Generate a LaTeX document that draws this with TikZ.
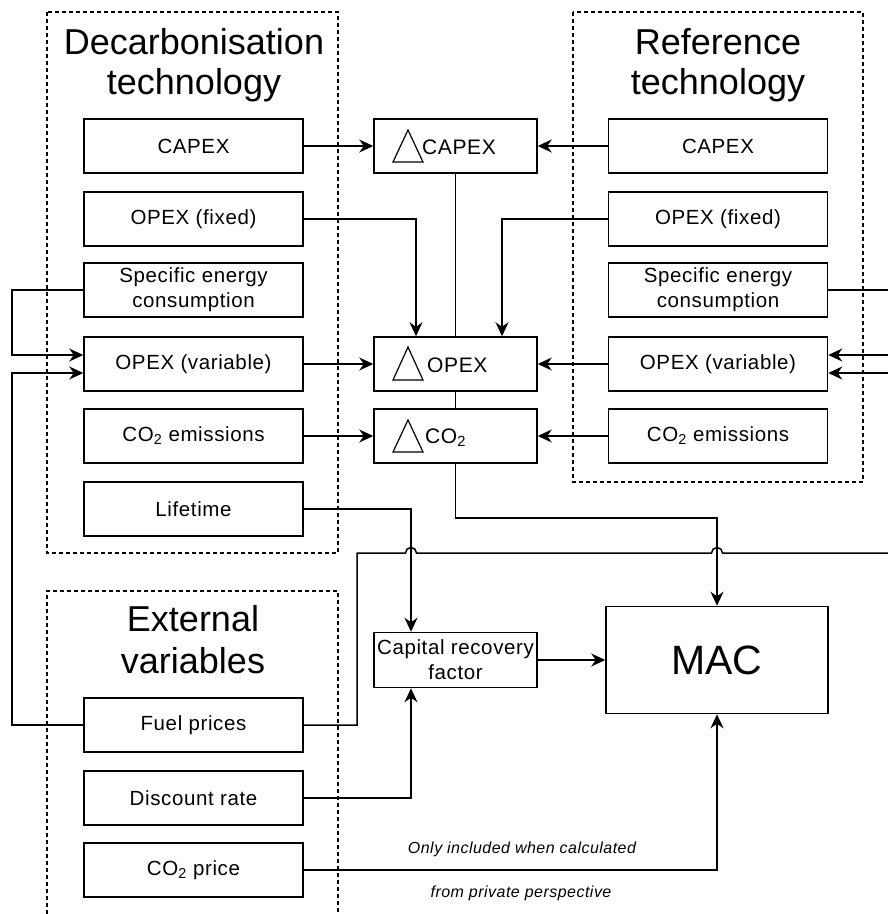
\documentclass[tikz,border=0pt]{standalone}
\usepackage{fontspec}
\setmainfont{Liberation Sans}
\newfontfamily\spacedfont[LetterSpace=3]{Liberation Sans}
\usetikzlibrary{arrows.meta}

\begin{document}
\begin{tikzpicture}[x=1pt,y=-1pt,
  box/.style={draw, line width=1.5pt, minimum width=219pt, minimum height=54pt,
    inner sep=0pt, align=center, font=\spacedfont\fontsize{20.5}{25}\selectfont},
  dbox/.style={draw, line width=1.5pt, minimum width=163pt, minimum height=54pt, inner sep=0pt},
  dlabel/.style={anchor=base west, inner sep=0pt, font=\spacedfont\fontsize{21}{25}\selectfont},
  dtri/.style={line width=1.2pt, line join=miter},
  group/.style={draw, line width=1.3pt, dash pattern=on 4pt off 3pt},
  heading/.style={anchor=base, inner sep=0pt, font=\fontsize{36}{42}\selectfont},
  note/.style={inner sep=0pt, font=\spacedfont\fontsize{16}{18}\selectfont\itshape},
  conn/.style={line width=1.5pt},
  arr/.style={conn, -{Stealth[length=14pt,width=13pt,inset=4.5pt]}},
]
\useasboundingbox (0,0) rectangle (888,914);

% dashed groups
\draw[group] (47,12) rectangle (338,553);
\draw[group] (573,12) rectangle (863,482);
\draw[group] (47,914) -- (47,591) -- (338,591) -- (338,914);

% group headings
\node[heading] (hdA) at (194,54) {Decarbonisation};
\node[heading] (hdB) at (194,94) {technology};
\node[heading] (hrA) at (718,54) {Reference};
\node[heading] (hrB) at (718,94) {technology};
\node[heading] (heA) at (193,631) {External};
\node[heading] (heB) at (193,673) {variables};

% decarbonisation technology inputs
\node[box] (dcapex) at (193.5,146) {CAPEX};
\node[box] (dopexf) at (193.5,219) {OPEX (fixed)};
\node[box] (dsec)   at (193.5,290) {Specific energy\\consumption};
\node[box] (dopexv) at (193.5,364) {OPEX (variable)};
\node[box] (dco2)   at (193.5,436) {CO\textsubscript{2} emissions};
\node[box] (dlife)  at (193.5,509) {Lifetime};

% external variables
\node[box] (fuel) at (193.5,725) {Fuel prices};
\node[box] (disc) at (193.5,798) {Discount rate};
\node[box] (co2p) at (193.5,870) {CO\textsubscript{2} price};

% reference technology inputs
\node[box] (rcapex) at (718,146) {CAPEX};
\node[box] (ropexf) at (718,219) {OPEX (fixed)};
\node[box] (rsec)   at (718,290) {Specific energy\\consumption};
\node[box] (ropexv) at (718,364) {OPEX (variable)};
\node[box] (rco2)   at (718,436) {CO\textsubscript{2} emissions};

% differences
\node[dbox] (dcap) at (455.5,146) {};
\node[dbox] (dop)  at (455.5,364) {};
\node[dbox] (dc)   at (455.5,436) {};
\draw[dtri] (393,162) -- (423,162) -- (408,130) -- cycle;
\node[dlabel] (dcapt) at (422,154) {CAPEX};
\draw[dtri] (393,380) -- (423,380) -- (408,347) -- cycle;
\node[dlabel] (dopt) at (427,372) {OPEX};
\draw[dtri] (393,452) -- (423,452) -- (408,420) -- cycle;
\node[dlabel] (dct) at (425,443) {CO\textsubscript{2}};

% capital recovery factor and result
\node[box, minimum width=163pt, minimum height=55pt] (crf) at (455.5,660) {Capital recovery\\factor};
\node[box, minimum width=222pt, minimum height=107pt, font=\fontsize{41}{44}\selectfont] (mac) at (717,660) {MAC};

% free ends at the right border
\coordinate (rsecout) at (888,290);
\coordinate (rin1) at (888,355);
\coordinate (rin2) at (888,373);

% connectors
\draw[arr] (dcapex) -- (dcap);
\draw[arr] (rcapex) -- (dcap);
\draw[arr] (dopexf.east) -| ([xshift=-39.5pt]dop.north);
\draw[arr] (ropexf.west) -| ([xshift=46.5pt]dop.north);
\draw[arr] (dopexv) -- (dop);
\draw[arr] (ropexv) -- (dop);
\draw[arr] (dco2) -- (dc);
\draw[arr] (rco2) -- (dc);
\draw[conn] (dcap) -- (dop);
\draw[conn] (dop) -- (dc);
\draw[arr] (dc.south) -- ++(0,54) -| (mac.north);

\draw[arr] (dsec.west) -- (12,290) |- ([yshift=9pt]dopexv.west);
\draw[arr] (fuel.west) -- (12,725) |- ([yshift=-9pt]dopexv.west);

\draw[conn] (rsec.east) -- (rsecout);
\draw[arr] (rin1) -- ([yshift=9pt]ropexv.east);
\draw[arr] (rin2) -- ([yshift=-9pt]ropexv.east);

\draw[conn] (fuel.east) -- (357,725) -- (357,553) -- (405.5,553)
  arc[start angle=180, end angle=0, radius=5.5pt] -- (711.5,553)
  arc[start angle=180, end angle=0, radius=5.5pt] -- (888,553);

\draw[arr] (dlife.east) -| ([xshift=-44.5pt]crf.north);
\draw[arr] (disc.east) -| ([xshift=-44.5pt]crf.south);
\draw[arr] (crf) -- (mac);
\draw[arr] (co2p.east) -| (mac.south);

% annotation of the CO2 price link
\node[note] (n1) at (522,849) {Only included when calculated};
\node[note] (n2) at (521,893) {from private perspective};
\end{tikzpicture}
\end{document}
